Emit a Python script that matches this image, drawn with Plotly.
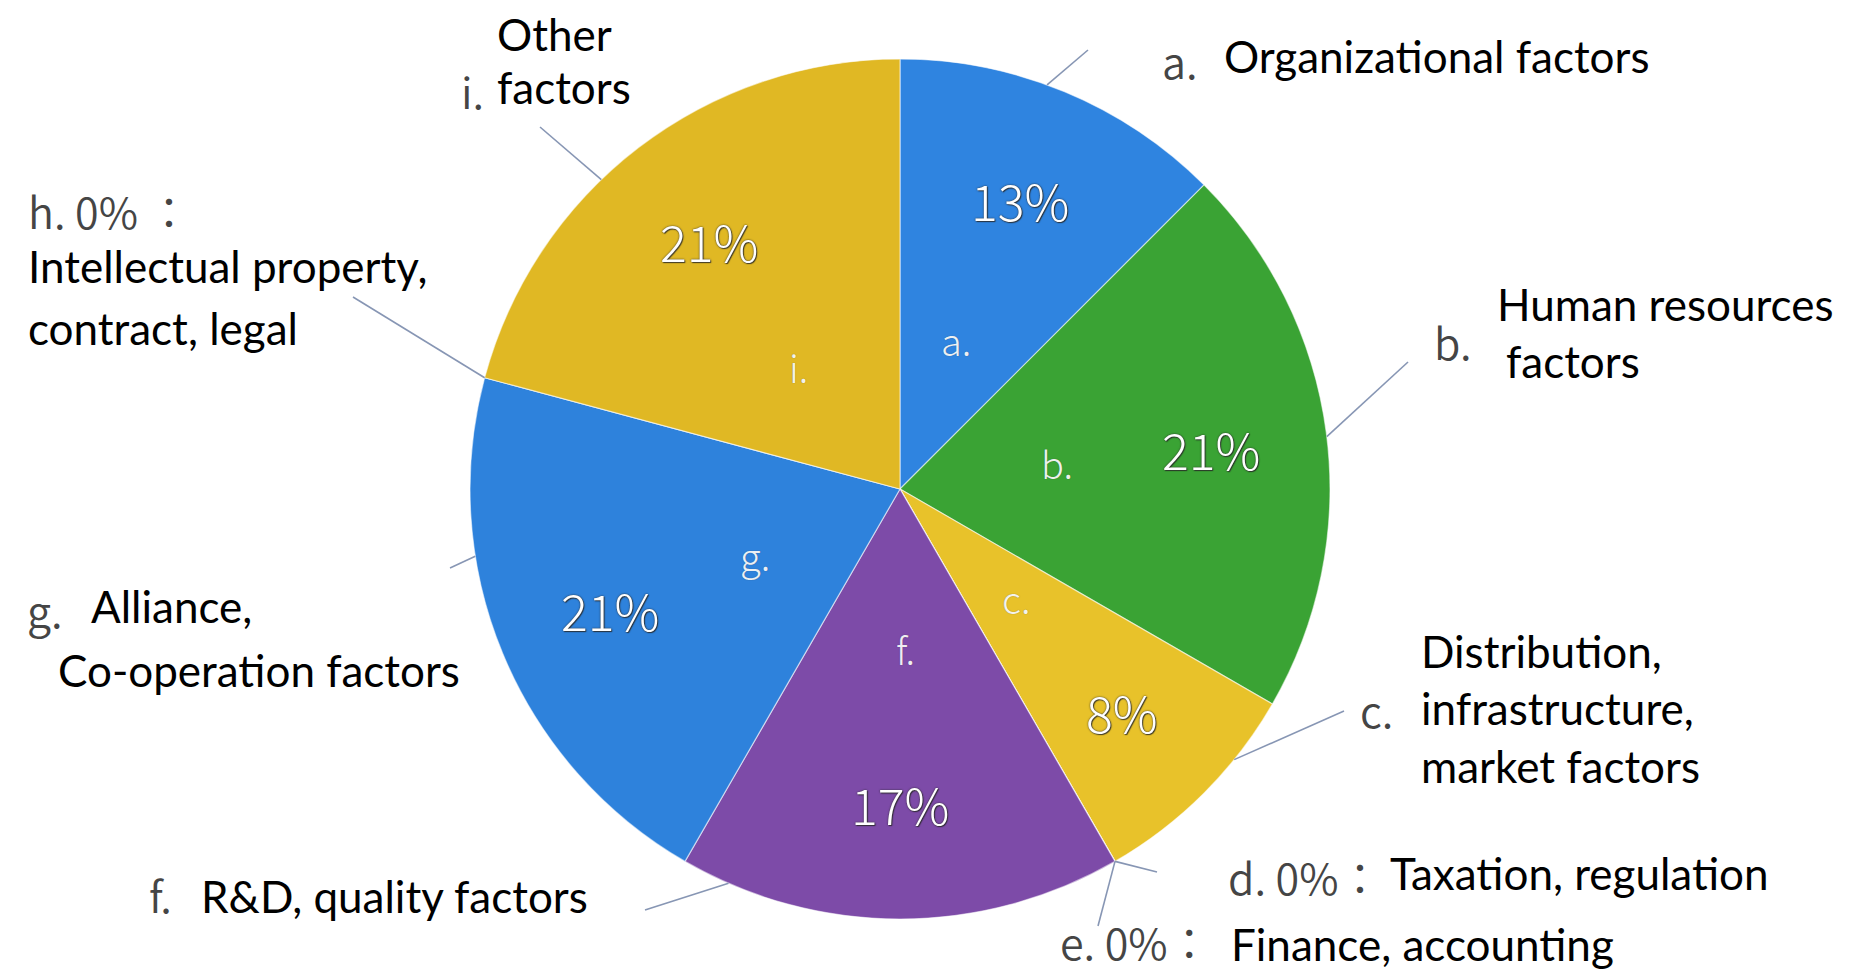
import math
import plotly.graph_objects as go

# ---------------- data ----------------
letters = ["a", "b", "c", "d", "e", "f", "g", "h", "i"]
counts = [3, 5, 2, 0, 0, 4, 5, 0, 5]
colors = ["#2f84e0", "#3aa334", "#e8c22a", "#d9b020", "#d9b020",
          "#7d4ba8", "#2e82dc", "#e0b824", "#e0b824"]
categories = [
    "Organizational factors",
    "Human resources factors",
    "Distribution, infrastructure, market factors",
    "Taxation, regulation",
    "Finance, accounting",
    "R&D, quality factors",
    "Alliance, Co-operation factors",
    "Intellectual property, contract, legal",
    "Other factors",
]

total = sum(counts)
pcts = [int(100.0 * c / total + 0.5) for c in counts]

# ---------------- geometry ----------------
W, H = 1857, 972
CX, CY, R = 900, 489, 430    # in window pixels


def px(x):
    return x / W


def py(y):
    return 1 - y / H


def polar(theta_deg, r):
    t = math.radians(theta_deg)
    return CX + r * math.sin(t), CY - r * math.cos(t)


# cumulative angles (clockwise from 12 o'clock)
mids = []
acc = 0.0
for c in counts:
    a0 = acc / total * 360
    acc += c
    a1 = acc / total * 360
    mids.append((a0 + a1) / 2)

fig = go.Figure()
fig.add_trace(go.Pie(
    labels=[f"{l}." for l in letters],
    values=counts,
    sort=False,
    direction="clockwise",
    rotation=0,
    marker=dict(colors=colors, line=dict(color="rgba(255,255,255,0.55)", width=1.2)),
    textinfo="none",
    hoverinfo="label+percent",
    showlegend=False,
    domain=dict(x=[px(CX - R), px(CX + R)], y=[py(CY + R), py(CY - R)]),
))

annotations = []
shapes = []

INNER_FONT = "Noto Sans CJK JP, Liberation Sans, sans-serif"
LABEL_FONT = "Lato, Carlito, Liberation Sans, sans-serif"

# inner labels: percentage + letter, at slice mid-angles
for i, c in enumerate(counts):
    if c == 0:
        continue
    x, y = polar(mids[i], 0.73 * R)
    annotations.append(dict(
        x=px(x), y=py(y), xref="paper", yref="paper", showarrow=False,
        text=f"{pcts[i]}%", xanchor="center", yanchor="middle",
        font=dict(family=INNER_FONT, size=50, color="white", weight=300,
                  shadow="0px 0px 2px rgba(40,40,40,0.95), 1px 1px 1px rgba(40,40,40,0.8)"),
    ))
    x, y = polar(mids[i] - 2, 0.37 * R)
    annotations.append(dict(
        x=px(x), y=py(y), xref="paper", yref="paper", showarrow=False,
        text=f"{letters[i]}.", xanchor="center", yanchor="middle",
        font=dict(family=INNER_FONT, size=38, color="rgba(255,255,255,0.92)", weight=300,
                  shadow="0px 0px 1px rgba(60,60,60,0.6)"),
    ))

# outside labels
GRAY = "#454545"
outside = [
    dict(pre="a.", pre_xy=(1160, 60), lines=[("Organizational factors", 1222, 56)],
         lead=(20, (1088, 50))),
    dict(pre="b.", pre_xy=(1432, 341), lines=[("Human resources", 1495, 304), ("factors", 1504, 361)],
         lead=(83, (1408, 362))),
    dict(pre="c.", pre_xy=(1358, 709), lines=[("Distribution,", 1419, 651), ("infrastructure,", 1419, 708),
                                                ("market factors", 1419, 766)],
         lead=(129, (1344, 711))),
    dict(pre="d. 0%：", pre_xy=(1226, 876), lines=[("Taxation, regulation", 1388, 873)],
         lead=(150, (1157, 872))),
    dict(pre="e. 0%：", pre_xy=(1058, 941), lines=[("Finance, accounting", 1229, 944)],
         lead=(150, (1098, 926))),
    dict(pre="f.", pre_xy=(147, 894), lines=[("R&D, quality factors", 199, 896)],
         lead=(203.5, (645, 910))),
    dict(pre="g.", pre_xy=(25, 609), lines=[("Alliance,", 89, 606), ("Co-operation factors", 56, 670)],
         lead=(261, (450, 568))),
    dict(pre="h. 0% ：", pre_xy=(26, 210), lines=[("Intellectual property,", 26, 266), ("contract, legal", 26, 328)],
         lead=(285, (353, 297))),
    dict(pre="i.", pre_xy=(459, 90), lines=[("Other", 495, 34), ("factors", 495, 87)],
         lead=(316, (540, 127))),
]

for item in outside:
    xg, yg = item["pre_xy"]
    annotations.append(dict(
        x=px(xg), y=py(yg), xref="paper", yref="paper", showarrow=False,
        text=item["pre"], xanchor="left", yanchor="middle",
        font=dict(family=INNER_FONT, size=43, color=GRAY, weight=350),
    ))
    for txt, lx, ly in item["lines"]:
        annotations.append(dict(
            x=px(lx), y=py(ly), xref="paper", yref="paper", showarrow=False,
            text=txt, xanchor="left", yanchor="middle",
            font=dict(family=LABEL_FONT, size=44, color="black"),
        ))
    ang, (ex, ey) = item["lead"]
    sx, sy = polar(ang, R)
    shapes.append(dict(
        type="line", xref="paper", yref="paper",
        x0=px(sx), y0=py(sy), x1=px(ex), y1=py(ey),
        line=dict(color="#8796b4", width=1.6),
    ))

fig.update_layout(
    width=W, height=H,
    margin=dict(l=0, r=0, t=0, b=0),
    paper_bgcolor="white",
    plot_bgcolor="white",
    annotations=annotations,
    shapes=shapes,
    showlegend=False,
)

fig.write_html(
    "out.html",
    config={"displayModeBar": False},
    post_script="document.body.style.margin='0';document.body.style.overflow='hidden';",
)
